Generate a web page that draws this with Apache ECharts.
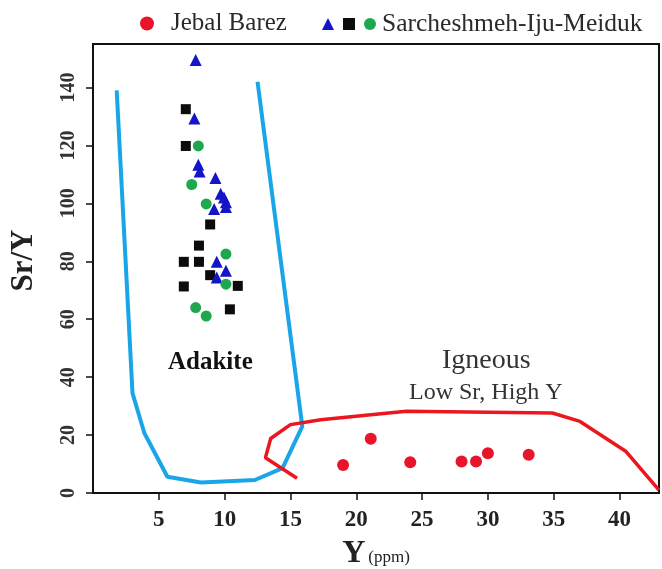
<!DOCTYPE html>
<html>
<head>
<meta charset="utf-8">
<script src="https://cdn.jsdelivr.net/npm/echarts@6/dist/echarts.min.js"></script>
<style>
  html, body { margin: 0; padding: 0; background: #fff; }
  #main { width: 662px; height: 569px; }
</style>
</head>
<body>
<div id="main"></div>
<script>
// Jebal Barez samples  [Y ppm, Sr/Y]
var jebalBarez = [[19.0, 9.7], [21.1, 18.7], [24.1, 10.6], [28.0, 10.9], [29.1, 10.9], [30.0, 13.7], [33.1, 13.2]];

// Sarcheshmeh-Iju-Meiduk samples, three symbol groups
var simTriangles = [[7.8, 149.5], [7.7, 129.3], [8.0, 113.3], [8.1, 111], [9.3, 108.7], [9.7, 103.3],
  [9.95, 102], [10.1, 100.4], [9.2, 98], [10.1, 98.7], [9.4, 79.8], [10.1, 76.7], [9.4, 74.4]];
var simSquares = [[7.05, 132.5], [7.05, 119.8], [8.9, 92.7], [8.05, 85.4], [6.9, 79.8], [8.05, 79.8],
  [8.9, 75.2], [6.9, 71.3], [11.0, 71.5], [10.4, 63.4]];
var simCircles = [[8.0, 119.8], [7.5, 106.5], [8.6, 99.8], [10.1, 82.5], [10.1, 72.1], [7.8, 64], [8.6, 61.1]];

// field boundaries
var adakiteField = [[1.8, 139], [3.0, 34.5], [3.9, 20.7], [5.65, 5.6], [8.2, 3.6], [12.3, 4.5],
  [14.4, 8.6], [15.9, 23], [12.5, 142]];
var igneousField = [[15.5, 5.1], [13.1, 12.2], [13.5, 18.8], [15.0, 23.6], [17.3, 25.3], [23.8, 28.2],
  [34.9, 27.6], [37.0, 24.7], [40.5, 14.3], [43, 1]];

var xTicks = [5, 10, 15, 20, 25, 30, 35, 40];
var yTicks = [0, 20, 40, 60, 80, 100, 120, 140];

var serif = '"Liberation Serif", "DejaVu Serif", serif';
var chart = echarts.init(document.getElementById('main'));

var option = {
  animation: false,
  textStyle: { fontFamily: serif },
  grid: {
    left: 93, right: 3, top: 44, bottom: 76,
    outerBoundsMode: 'none', containLabel: false,
    show: true, borderColor: '#111', borderWidth: 2
  },
  legend: [{
    left: 135, top: 6,
    itemWidth: 14, itemHeight: 14, itemGap: 8,
    textStyle: { fontFamily: serif, fontSize: 25, color: '#2a2a2a', padding: [0, 0, 0, 12] },
    data: [{ name: 'Jebal Barez', icon: 'circle' }]
  }, {
    left: 317, top: 6,
    itemWidth: 12, itemHeight: 12, itemGap: 9,
    textStyle: { fontFamily: serif, fontSize: 25.5, color: '#2a2a2a', padding: [0, 0, 0, 1] },
    formatter: function (name) {
      return name === 'Sarcheshmeh-Iju-Meiduk' ? name : '';
    },
    data: [
      { name: 'SIM-tri', icon: 'triangle' },
      { name: 'SIM-sq', icon: 'rect' },
      { name: 'Sarcheshmeh-Iju-Meiduk', icon: 'circle' }
    ]
  }],
  xAxis: {
    type: 'value', min: 0, max: 43,
    splitLine: { show: false },
    axisLine: { lineStyle: { color: '#111', width: 2 } },
    axisTick: { show: true, length: 7, customValues: xTicks, lineStyle: { color: '#111', width: 1.5 } },
    axisLabel: { customValues: xTicks, fontFamily: serif, fontSize: 23, fontWeight: 'bold', color: '#222', margin: 16 },
    name: '{b|Y} {s|(ppm)}',
    nameLocation: 'middle', nameGap: 45,
    nameTextStyle: {
      rich: {
        b: { fontFamily: serif, fontSize: 32, fontWeight: 'bold', color: '#222' },
        s: { fontFamily: serif, fontSize: 17, color: '#222', padding: [8, 0, 0, 0] }
      }
    }
  },
  yAxis: {
    type: 'value', min: 0, max: 155,
    splitLine: { show: false },
    axisLine: { show: true, lineStyle: { color: '#111', width: 2 } },
    axisTick: { show: true, length: 7, customValues: yTicks, lineStyle: { color: '#111', width: 1.5 } },
    axisLabel: { customValues: yTicks, rotate: 90, fontFamily: serif, fontSize: 20, fontWeight: 'bold', color: '#333', margin: 14 },
    name: 'Sr/Y', nameLocation: 'middle', nameRotate: 90, nameGap: 54,
    nameTextStyle: { fontFamily: serif, fontSize: 31, fontWeight: 'bold', color: '#222', padding: [0, 0, 0, 16] }
  },
  graphic: [
    { type: 'text', left: 168, top: 350, style: { text: 'Adakite', font: 'bold 25px ' + serif, fill: '#111' } },
    { type: 'text', left: 442, top: 347, style: { text: 'Igneous', font: '28px ' + serif, fill: '#333' } },
    { type: 'text', left: 409, top: 381, style: { text: 'Low Sr, High Y', font: '24px ' + serif, fill: '#333' } }
  ],
  series: [
    {
      name: 'Adakite field', type: 'line', data: adakiteField, showSymbol: false,
      lineStyle: { color: '#1aa5e8', width: 4 }, z: 2
    },
    {
      name: 'Igneous field', type: 'line', data: igneousField, showSymbol: false,
      lineStyle: { color: '#ec1620', width: 3.5 }, z: 2
    },
    {
      name: 'Jebal Barez', type: 'scatter', data: jebalBarez, symbol: 'circle', symbolSize: 12,
      itemStyle: { color: '#e8142c', opacity: 1 }, z: 3
    },
    {
      name: 'SIM-sq', type: 'scatter', data: simSquares, symbol: 'rect', symbolSize: 10,
      itemStyle: { color: '#0c0c0c', opacity: 1 }, z: 3
    },
    {
      name: 'SIM-tri', type: 'scatter', data: simTriangles, symbol: 'triangle', symbolSize: 12,
      itemStyle: { color: '#1414c8', opacity: 1 }, z: 4
    },
    {
      name: 'Sarcheshmeh-Iju-Meiduk', type: 'scatter', data: simCircles, symbol: 'circle', symbolSize: 11,
      itemStyle: { color: '#1ea84e', opacity: 1 }, z: 4
    }
  ]
};

chart.setOption(option);
</script>
</body>
</html>
